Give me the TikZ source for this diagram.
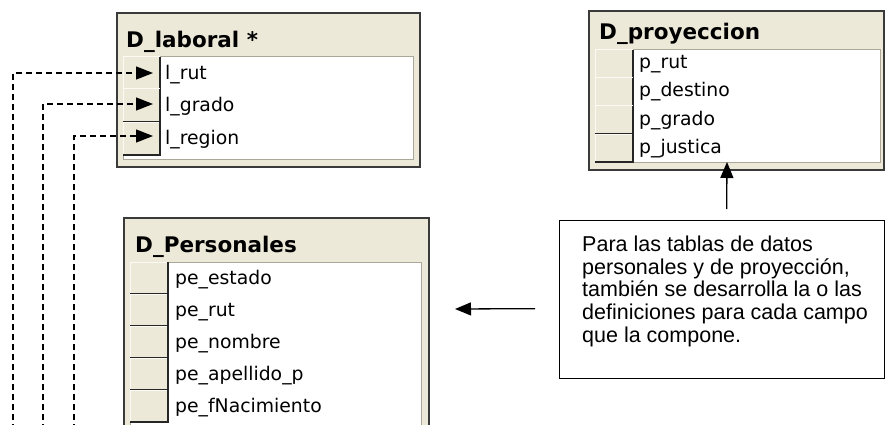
\documentclass[tikz,border=0pt]{standalone}
\usepackage{fontspec}
\setmainfont{DejaVu Sans}
\newfontfamily\notefont{Liberation Sans}
\usetikzlibrary{arrows.meta}
\definecolor{cream}{HTML}{ECE9D8}
\definecolor{edge}{HTML}{3A3A3A}
\definecolor{sep}{HTML}{ACA899}
\definecolor{cellhi}{HTML}{FBFAF5}
\begin{document}
\begin{tikzpicture}[x=1pt,y=-1pt,
  tablebox/.style={draw=edge, line width=2pt, fill=cream, inner sep=0pt, anchor=north west},
  fieldarea/.style={fill=white, draw=sep, line width=1pt},
  cellline/.style={draw=black!85, line width=1.4pt},
  cellhigh/.style={draw=cellhi, line width=1pt},
  tabletitle/.style={font=\bfseries\fontsize{21.5}{24}\selectfont, inner sep=0pt, anchor=base west},
  fieldtext/.style={font=\fontsize{18.8}{22}\selectfont, inner sep=0pt, anchor=base west},
  notebox/.style={draw=black, line width=1.3pt, fill=white, inner sep=0pt, anchor=north west},
  notetext/.style={font=\notefont\fontsize{21.5}{22.8}\selectfont, align=left, inner sep=0pt, anchor=north west},
  conn/.style={line width=1.3pt, -{Triangle[length=16pt,width=13pt]}},
  dashconn/.style={line width=1.3pt, dash pattern=on 6pt off 4pt, -{Triangle[length=17pt,width=13pt]}}
]
\useasboundingbox (0,0) rectangle (885,425);
\clip (0,0) rectangle (885,425);

% ---------- D_laboral ----------
\node[tablebox, minimum width=303pt, minimum height=154pt] (lab) at (116,12) {};
\fill[fieldarea] (123,57) rectangle (413,159);
\foreach \t/\b in {57/89, 89/122, 122/155} {
  \fill[cream] (123,\t) rectangle (160,\b);
  \draw[cellhigh] (123,\b) -- (123,\t) -- (160,\t);
  \draw[cellline] (123,\b) -- (160,\b) -- (160,\t);
}
\node[tabletitle] (labT) at (126,48) {D\_laboral *};
\node[fieldtext] (lab1) at (165,80) {l\_rut};
\node[fieldtext] (lab2) at (165,112) {l\_grado};
\node[fieldtext] (lab3) at (165,144) {l\_region};

% ---------- D_Personales ----------
\node[tablebox, minimum width=305pt, minimum height=223pt] (pers) at (123,217) {};
\fill[fieldarea] (130,262) rectangle (421,440);
\foreach \t/\b in {262/294, 294/326, 326/358, 358/390, 390/422} {
  \fill[cream] (130,\t) rectangle (168,\b);
  \draw[cellhigh] (130,\b) -- (130,\t) -- (168,\t);
  \draw[cellline] (130,\b) -- (168,\b) -- (168,\t);
}
\node[tabletitle] (persT) at (135,252) {D\_Personales};
\node[fieldtext] (pers1) at (175,284) {pe\_estado};
\node[fieldtext] (pers2) at (175,316) {pe\_rut};
\node[fieldtext] (pers3) at (175,348) {pe\_nombre};
\node[fieldtext] (pers4) at (175,380) {pe\_apellido\_p};
\node[fieldtext] (pers5) at (175,412) {pe\_fNacimiento};

% ---------- D_proyeccion ----------
\node[tablebox, minimum width=295pt, minimum height=159pt] (proj) at (588,10) {};
\fill[fieldarea] (595,50) rectangle (880,162);
\foreach \t/\b in {50/78, 78/106, 106/134, 134/162} {
  \fill[cream] (595,\t) rectangle (633,\b);
  \draw[cellhigh] (595,\b) -- (595,\t) -- (633,\t);
  \draw[cellline] (595,\b) -- (633,\b) -- (633,\t);
}
\node[tabletitle] (projT) at (599,40) {D\_proyeccion};
\node[fieldtext] (proj1) at (639,69) {p\_rut};
\node[fieldtext] (proj2) at (639,97) {p\_destino};
\node[fieldtext] (proj3) at (639,125) {p\_grado};
\node[fieldtext] (proj4) at (639,153) {p\_justica};

% ---------- note ----------
\node[notebox, minimum width=325pt, minimum height=158pt] (note) at (559,220) {};
\node[notetext] (ntxt) at (582,235.5) {Para las tablas de datos\\personales y de proyección,\\también se desarrolla la o las\\definiciones para cada campo\\que la compone.};

% ---------- connectors ----------
\draw[conn] ([shift={(4.5,-11)}]note.north) -- ([shift={(-9.5,-9)}]proj.south);
\draw[conn] ([shift={(-24,9)}]note.west) -- ([shift={(25,-20.5)}]pers.east);

\coordinate (f1) at (13,440);
\coordinate (f2) at (43,440);
\coordinate (f3) at (74,440);
\coordinate (t1) at (153,73);
\coordinate (t2) at (153,104);
\coordinate (t3) at (153,136);
\draw[dashconn] (f1) |- (t1);
\draw[dashconn] (f2) |- (t2);
\draw[dashconn] (f3) |- (t3);
\end{tikzpicture}
\end{document}
